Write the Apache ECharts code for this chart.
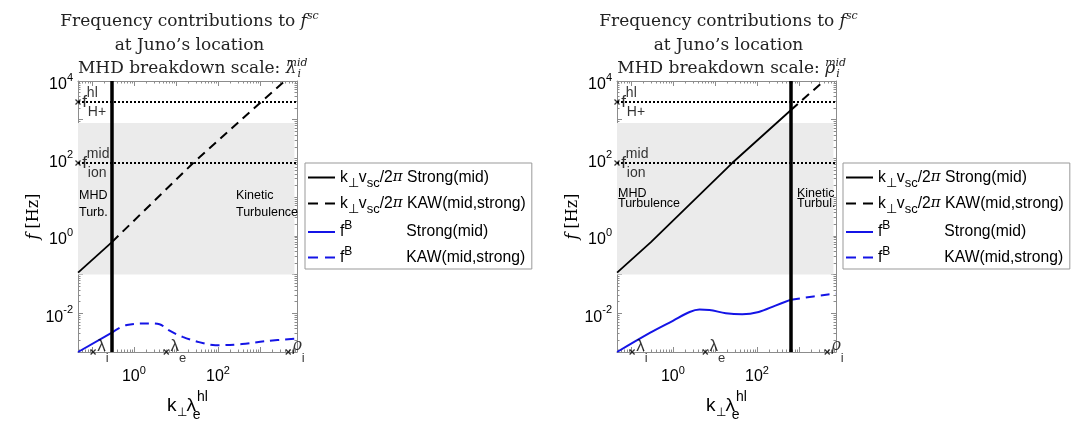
<!DOCTYPE html>
<html>
<head>
<meta charset="utf-8">
<title>f_sc contributions at Juno</title>
<script src="https://cdn.jsdelivr.net/npm/echarts@6.0.0/dist/echarts.min.js"></script>
<style>
  html, body { margin: 0; padding: 0; background: #fff; }
  #main { width: 1087px; height: 424px; }
</style>
</head>
<body>
<div id="main"></div>
<script>
// log-log axes: x = k_perp * lambda_e^hl, y = f [Hz]
var xLimits = [0.0468, 7600];
var yLimits = [0.001, 10000];
var xLabelExp = [0, 2];
var yLabelExp = [-2, 0, 2, 4];

// k_perp v_sc / 2pi, same line in both panels
var kvK = [0.047, 0.30, 25.7, 646, 3900];
var kvF = [0.112, 0.69, 76, 1780, 10000];

// f^B, left panel (breakdown at lambda_i^mid)
var fbLeftK = [0.047, 0.30, 0.68, 2.34, 4.07, 6.9, 14.5, 35.5, 87, 372, 1320, 7600];
var fbLeftF = [0.001, 0.00316, 0.0050, 0.00545, 0.0052, 0.0036, 0.00245, 0.0018, 0.0015, 0.0016, 0.0019, 0.00224];
// f^B, right panel (breakdown at rho_i^mid)
var fbRightK = [0.047, 0.29, 1.0, 2.5, 4.3, 7.4, 18.2, 44.7, 110, 275, 646, 4900, 7600];
var fbRightF = [0.001, 0.00316, 0.0064, 0.0108, 0.0125, 0.0122, 0.0100, 0.0094, 0.0108, 0.0158, 0.0225, 0.0305, 0.0320];

// MHD breakdown scale (thick vertical line) per panel
var breakK = [0.30, 646];
// dotted reference frequencies: f_H+^hl, f_ion^mid
var refF = [2880, 76];
var refNames = [['hl', 'H+'], ['mid', 'ion']];
// shaded band
var bandF = [0.1, 820];
var bandKmax = 6600;
// scale markers on the k axis
var markK = [0.107, 5.9, 4700];
var markNames = [['λ', 'i'], ['λ', 'e'], ['ρ', 'i']];

var panelTitles = ['λ', 'ρ'];
var sideText = [['MHD\nTurb.', 'Kinetic\nTurbulence'], ['MHD\nTurbulence', 'Kinetic\nTurbul.']];

var SANS = 'Liberation Sans';
var SERIF = 'DejaVu Serif';
var BLUE = '#1414e6';
var AXIS = '#8c8c8c';

var gridLeft = [78, 617];
var gridTop = 81, gridW = 219, gridH = 271;

function lg(v) { return Math.log10(v); }
function pairs(xs, ys) {
    var out = [];
    for (var i = 0; i < xs.length; i++) out.push([lg(xs[i]), lg(ys[i])]);
    return out;
}
function upTo(d, lim) { return d.filter(function (p) { return p[0] <= lg(lim) + 1e-9; }); }
function from(d, lim) { return d.filter(function (p) { return p[0] >= lg(lim) - 1e-9; }); }

var x0 = lg(xLimits[0]), x1 = lg(xLimits[1]);
var y0 = lg(yLimits[0]), y1 = lg(yLimits[1]);

function majors(a, b) {
    var out = [];
    for (var e = Math.ceil(a); e <= b; e++) out.push(e);
    return out;
}
function minors(a, b) {
    var out = [];
    for (var e = Math.floor(a); e <= b; e++) {
        for (var m = 2; m < 10; m++) {
            var v = e + Math.log10(m);
            if (v > a && v < b) out.push(v);
        }
    }
    return out;
}

// shift a rich token up (d < 0) or down (d > 0) without growing the line
function shift(d) { return [d, 0, -d, 0]; }

var xExpLabel = {
    b: { fontFamily: SANS, fontSize: 16, color: '#000', lineHeight: 18 },
    p: { fontFamily: SANS, fontSize: 11, color: '#000', lineHeight: 18, padding: shift(-6) }
};
var yExpLabel = {
    b: { fontFamily: SANS, fontSize: 16, color: '#000', lineHeight: 18, padding: shift(4) },
    p: { fontFamily: SANS, fontSize: 11, color: '#000', lineHeight: 18, padding: shift(-3) }
};
function expFmt(v) { return '{b|10}{p|' + Math.round(v) + '}'; }

var xAxes = [], yAxes = [], grids = [], series = [], titles = [], legends = [], graphics = [];

function axisPart(p, dim, pos, ticks, len, withLine) {
    return {
        type: 'value', gridIndex: p, position: pos,
        min: dim === 'x' ? x0 : y0, max: dim === 'x' ? x1 : y1,
        axisLine: { show: withLine, onZero: false, lineStyle: { color: AXIS, width: 1 } },
        axisTick: { show: true, inside: true, length: len, customValues: ticks, lineStyle: { color: AXIS } },
        axisLabel: { show: false },
        splitLine: { show: false }
    };
}

var legendText = {
    kvS: '{t|k}{sb|⊥}{t|v}{sb|sc}{t|/2}{pi|π}{t| Strong(mid)}',
    kvK: '{t|k}{sb|⊥}{t|v}{sb|sc}{t|/2}{pi|π}{t| KAW(mid,strong)}',
    fbS: '{t|f}{sp|B}{gap|}{t|Strong(mid)}',
    fbK: '{t|f}{sp|B}{gap|}{t|KAW(mid,strong)}'
};
var SOLID_ICON = 'path://M0,0H27V2H0Z';
var DASH_ICON = 'path://M0,0H10V2H0ZM17,0H27V2H17Z';
var legendItems = [
    { name: 'kvS', icon: SOLID_ICON, itemStyle: { color: '#000' } },
    { name: 'kvK', icon: DASH_ICON, itemStyle: { color: '#000' } },
    { name: 'fbS', icon: SOLID_ICON, itemStyle: { color: BLUE } },
    { name: 'fbK', icon: DASH_ICON, itemStyle: { color: BLUE } }
];

for (var p = 0; p < 2; p++) {
    grids.push({ left: gridLeft[p], top: gridTop, width: gridW, height: gridH, outerBoundsMode: 'none', containLabel: false });

    var xm = majors(x0, x1), xn = minors(x0, x1);
    var ym = majors(y0, y1), yn = minors(y0, y1);

    var xb = axisPart(p, 'x', 'bottom', xm, 5, true);
    xb.axisLabel = {
        show: true, customValues: xLabelExp, margin: 16,
        formatter: expFmt, rich: xExpLabel
    };
    xb.name = '{t|k}{sb|⊥}{g|λ}{se|e}{sp|hl}';
    xb.nameLocation = 'middle';
    xb.nameGap = 38;
    xb.nameTextStyle = {
        rich: {
            t: { fontFamily: SANS, fontSize: 19, color: '#000', lineHeight: 24 },
            g: { fontFamily: SANS, fontSize: 19, color: '#000', lineHeight: 24 },
            sb: { fontFamily: SANS, fontSize: 12, color: '#000', lineHeight: 24, padding: shift(7) },
            se: { fontFamily: SANS, fontSize: 14, color: '#000', lineHeight: 24, width: 1, padding: shift(9) },
            sp: { fontFamily: SANS, fontSize: 14, color: '#000', lineHeight: 24, padding: shift(-9) }
        }
    };
    xAxes.push(xb);
    xAxes.push(axisPart(p, 'x', 'top', xm, 5, true));
    xAxes.push(axisPart(p, 'x', 'bottom', xn, 2.5, false));
    xAxes.push(axisPart(p, 'x', 'top', xn, 2.5, false));

    var yl = axisPart(p, 'y', 'left', ym, 5, true);
    yl.axisLabel = {
        show: true, customValues: yLabelExp, margin: 5,
        formatter: expFmt, rich: yExpLabel
    };
    yl.name = '{i|f} [Hz]';
    yl.nameLocation = 'middle';
    yl.nameGap = 34;
    yl.nameTextStyle = {
        rich: {
            i: { fontFamily: SERIF, fontStyle: 'italic', fontSize: 16, color: '#000' }
        },
        fontFamily: SERIF, fontSize: 16, color: '#000'
    };
    yAxes.push(yl);
    yAxes.push(axisPart(p, 'y', 'right', ym, 5, true));
    yAxes.push(axisPart(p, 'y', 'left', yn, 2.5, false));
    yAxes.push(axisPart(p, 'y', 'right', yn, 2.5, false));

    var xi = p * 4, yi = p * 4;
    var brk = breakK[p];
    var kv = pairs(kvK, kvF);
    var fb = p === 0 ? pairs(fbLeftK, fbLeftF) : pairs(fbRightK, fbRightF);

    // shaded band + dotted reference lines
    series.push({
        type: 'line', xAxisIndex: xi, yAxisIndex: yi, data: [], silent: true, z: 1,
        markArea: {
            silent: true,
            itemStyle: { color: '#ebebeb' },
            data: [[{ coord: [x0, lg(bandF[0])] }, { coord: [lg(bandKmax), lg(bandF[1])] }]]
        },
        markLine: {
            silent: true, symbol: ['none', 'none'], label: { show: false },
            lineStyle: { color: '#000', type: 'dotted', width: 2 },
            data: [{ yAxis: lg(refF[0]) }, { yAxis: lg(refF[1]) }]
        }
    });

    series.push({
        name: 'kvS', type: 'line', xAxisIndex: xi, yAxisIndex: yi, z: 3, color: '#000',
        data: upTo(kv, brk), symbol: 'none',
        lineStyle: { color: '#000', width: 1.8 }
    });
    series.push({
        name: 'kvK', type: 'line', xAxisIndex: xi, yAxisIndex: yi, z: 3, color: '#000',
        data: from(kv, brk), symbol: 'none',
        lineStyle: { color: '#000', width: 2, type: [9, 6] }
    });
    series.push({
        name: 'fbS', type: 'line', xAxisIndex: xi, yAxisIndex: yi, z: 3, color: BLUE,
        data: upTo(fb, brk), symbol: 'none', smooth: 0.35,
        lineStyle: { color: BLUE, width: 2 }
    });
    series.push({
        name: 'fbK', type: 'line', xAxisIndex: xi, yAxisIndex: yi, z: 3, color: BLUE,
        data: from(fb, brk), symbol: 'none', smooth: 0.35,
        lineStyle: { color: BLUE, width: 2, type: [9, 6] }
    });

    // breakdown scale line
    series.push({
        type: 'line', xAxisIndex: xi, yAxisIndex: yi, data: [], silent: true, z: 4,
        markLine: {
            silent: true, symbol: ['none', 'none'], label: { show: false },
            lineStyle: { color: '#000', type: 'solid', width: 3.5 },
            data: [{ xAxis: lg(brk) }]
        }
    });

    // markers on the k axis
    series.push({
        type: 'scatter', xAxisIndex: xi, yAxisIndex: yi, z: 5, silent: true,
        symbol: 'path://M0,0L10,10M10,0L0,10', symbolSize: 5,
        itemStyle: { color: '#000', borderColor: '#000', borderWidth: 1.3 },
        label: {
            show: true, position: 'right', distance: 1, offset: [0, -6],
            rich: {
                g: { fontFamily: SANS, fontSize: 17, color: '#000' },
                r: { fontFamily: SERIF, fontStyle: 'italic', fontSize: 16, color: '#000' },
                s: { fontFamily: SANS, fontSize: 13, color: '#000', padding: shift(12) }
            }
        },
        data: markK.map(function (k, i) {
            var g = markNames[i][0] === 'ρ' ? 'r' : 'g';
            return {
                value: [lg(k), y0],
                label: { formatter: '{' + g + '|' + markNames[i][0] + '}{s|' + markNames[i][1] + '}' }
            };
        }),
        clip: false
    });

    // markers on the f axis
    series.push({
        type: 'scatter', xAxisIndex: xi, yAxisIndex: yi, z: 5, silent: true,
        symbol: 'path://M0,0L10,10M10,0L0,10', symbolSize: 5,
        itemStyle: { color: '#000', borderColor: '#000', borderWidth: 1.3 },
        label: {
            show: true, position: 'right', distance: 1,
            rich: {
                f: { fontFamily: SANS, fontSize: 17, color: '#000' },
                su: { fontFamily: SANS, fontSize: 14, color: '#000', width: 1, padding: shift(-9) },
                sb: { fontFamily: SANS, fontSize: 14, color: '#000', padding: shift(10) }
            }
        },
        data: refF.map(function (f, i) {
            return {
                value: [x0, lg(f)],
                label: { formatter: '{f|f}{su|' + refNames[i][0] + '}{sb|' + refNames[i][1] + '}' }
            };
        }),
        clip: false
    });

    var cx = gridLeft[p] + gridW / 2 - 3;
    titles.push({
        text: 'Frequency contributions to {i|f}{sup|sc}\nat Juno\u2019s location\nMHD breakdown scale: {i|' +
            panelTitles[p] + '}{sz|mid}{sb|i}',
        left: cx, top: 5, textAlign: 'center',
        textStyle: {
            fontFamily: SERIF, fontSize: 17, fontWeight: 'normal', color: '#222', lineHeight: 23.5,
            rich: {
                i: { fontFamily: SERIF, fontStyle: 'italic', fontSize: 17, color: '#222' },
                sup: { fontFamily: SERIF, fontStyle: 'italic', fontSize: 11, color: '#222', padding: shift(-6) },
                sz: { fontFamily: SERIF, fontStyle: 'italic', fontSize: 11, color: '#222', width: 1, padding: shift(-6) },
                sb: { fontFamily: SERIF, fontStyle: 'italic', fontSize: 11, color: '#222', padding: shift(5) }
            }
        }
    });

    legends.push({
        data: legendItems,
        orient: 'vertical', left: p === 0 ? 305 : 843, top: 163,
        selectedMode: false,
        borderColor: '#999', borderWidth: 1, padding: [5, 6, 2, 3],
        itemWidth: 27, itemHeight: 2, itemGap: 4,
        formatter: function (n) { return legendText[n]; },
        textStyle: {
            fontFamily: SANS, fontSize: 15.7, color: '#000', lineHeight: 19,
            rich: {
                t: { fontFamily: SANS, fontSize: 15.7, color: '#000', lineHeight: 19 },
                pi: { fontFamily: SERIF, fontStyle: 'italic', fontSize: 15, color: '#000', lineHeight: 19 },
                sb: { fontFamily: SANS, fontSize: 13, color: '#000', lineHeight: 19, padding: shift(6) },
                sp: { fontFamily: SANS, fontSize: 12, color: '#000', lineHeight: 19, padding: shift(-6) },
                gap: { width: 54, lineHeight: 19 }
            }
        }
    });

    var gl = gridLeft[p];
    graphics.push({
        type: 'text', left: gl + 1, top: 187, z: 10,
        style: { text: sideText[p][0], fontFamily: SANS, fontSize: 12.5, fill: '#000', lineHeight: p === 0 ? 17 : 10 }
    });
    graphics.push({
        type: 'text', left: p === 0 ? gl + 158 : gl + 180, top: 187, z: 10,
        style: { text: sideText[p][1], fontFamily: SANS, fontSize: 12.5, fill: '#000', lineHeight: p === 0 ? 17 : 10 }
    });
}

var chart = echarts.init(document.getElementById('main'));
chart.setOption({
    animation: false,
    backgroundColor: '#fff',
    title: titles,
    legend: legends,
    grid: grids,
    xAxis: xAxes,
    yAxis: yAxes,
    series: series,
    graphic: graphics
});
</script>
</body>
</html>
